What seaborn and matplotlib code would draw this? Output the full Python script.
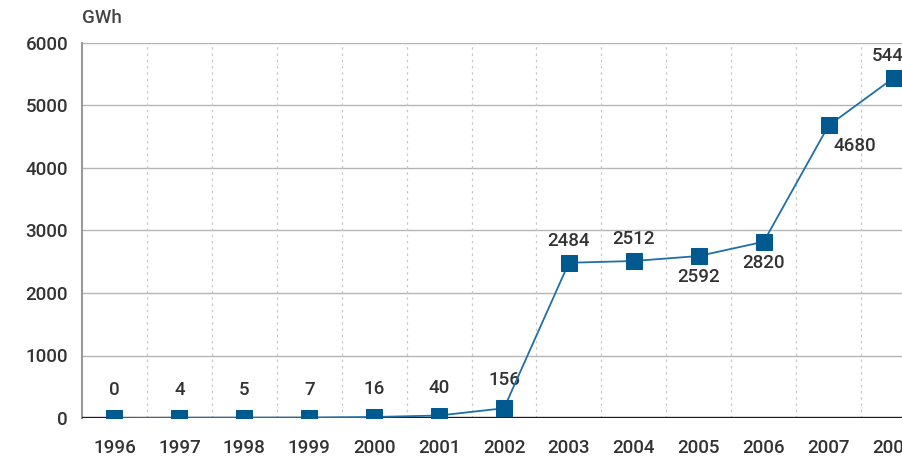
import matplotlib
matplotlib.use("Agg")
import matplotlib.pyplot as plt
import seaborn as sns
import pandas as pd

# Data
years = [1996, 1997, 1998, 1999, 2000, 2001, 2002, 2003, 2004, 2005, 2006, 2007, 2008]
gwh = [0, 4, 5, 7, 16, 40, 156, 2484, 2512, 2592, 2820, 4680, 5440]
label_below = [2005, 2006, 2007]

df = pd.DataFrame({"year": years, "gwh": gwh})

sns.set_theme(style="white")
plt.rcParams["font.family"] = ["Roboto", "DejaVu Sans"]
plt.rcParams["font.weight"] = "medium"

fig = plt.figure(figsize=(9.03, 4.57), dpi=100)
ax = fig.add_axes([82 / 903, 1 - 418 / 457, 844 / 903, 375 / 457])

line_col = "#1f6fa8"
mark_col = "#005a8f"
sns.lineplot(data=df, x="year", y="gwh", ax=ax, color=line_col, linewidth=1.3,
             marker="s", markersize=12, markerfacecolor=mark_col,
             markeredgecolor=mark_col, zorder=4)

ax.set_xlim(1995.5, 2008.5)
ax.set_ylim(0, 6000)
ax.set_yticks(range(0, 6001, 1000))
ax.set_xticks(years)
ax.set_xticklabels([str(y) for y in years])

# grid: solid horizontal, dotted vertical between years
for yv in range(1000, 6001, 1000):
    ax.axhline(yv, color="#b5b5b5", linewidth=1, zorder=1)
for xv in years[:-1]:
    ax.axvline(xv + 0.5, color="#c8c8c8", linewidth=0.9, linestyle=(0, (2, 3)), zorder=1)
ax.axhline(0, color="#1a1a1a", linewidth=2.4, zorder=3)

for s in ["top", "right", "bottom"]:
    ax.spines[s].set_visible(False)
ax.spines["left"].set_color("#9a9a9a")
ax.spines["left"].set_linewidth(1.5)

ax.tick_params(axis="both", length=0, labelsize=13.5, labelcolor="#333333")
ax.tick_params(axis="y", pad=10)
ax.tick_params(axis="x", pad=15)
for t in ax.get_xticklabels() + ax.get_yticklabels():
    t.set_fontweight("medium")
ax.set_xlabel("")
ax.set_ylabel("")

for x, v in zip(years, gwh):
    if x in label_below:
        dx = 19 if x == 2007 else 0
        dy = -15
    else:
        dx = 0
        dy = 20 if v < 1000 else 16
    ax.annotate(str(v), (x, v), xytext=(dx, dy), textcoords="offset points",
                ha="center", va="center", fontsize=13.5, color="#333333",
                fontweight="medium", annotation_clip=False)

fig.text(82 / 903, 1 - 18 / 457, "GWh", ha="left", va="center", fontsize=13.5,
         color="#444444")

fig.savefig("out.png", dpi=100)
